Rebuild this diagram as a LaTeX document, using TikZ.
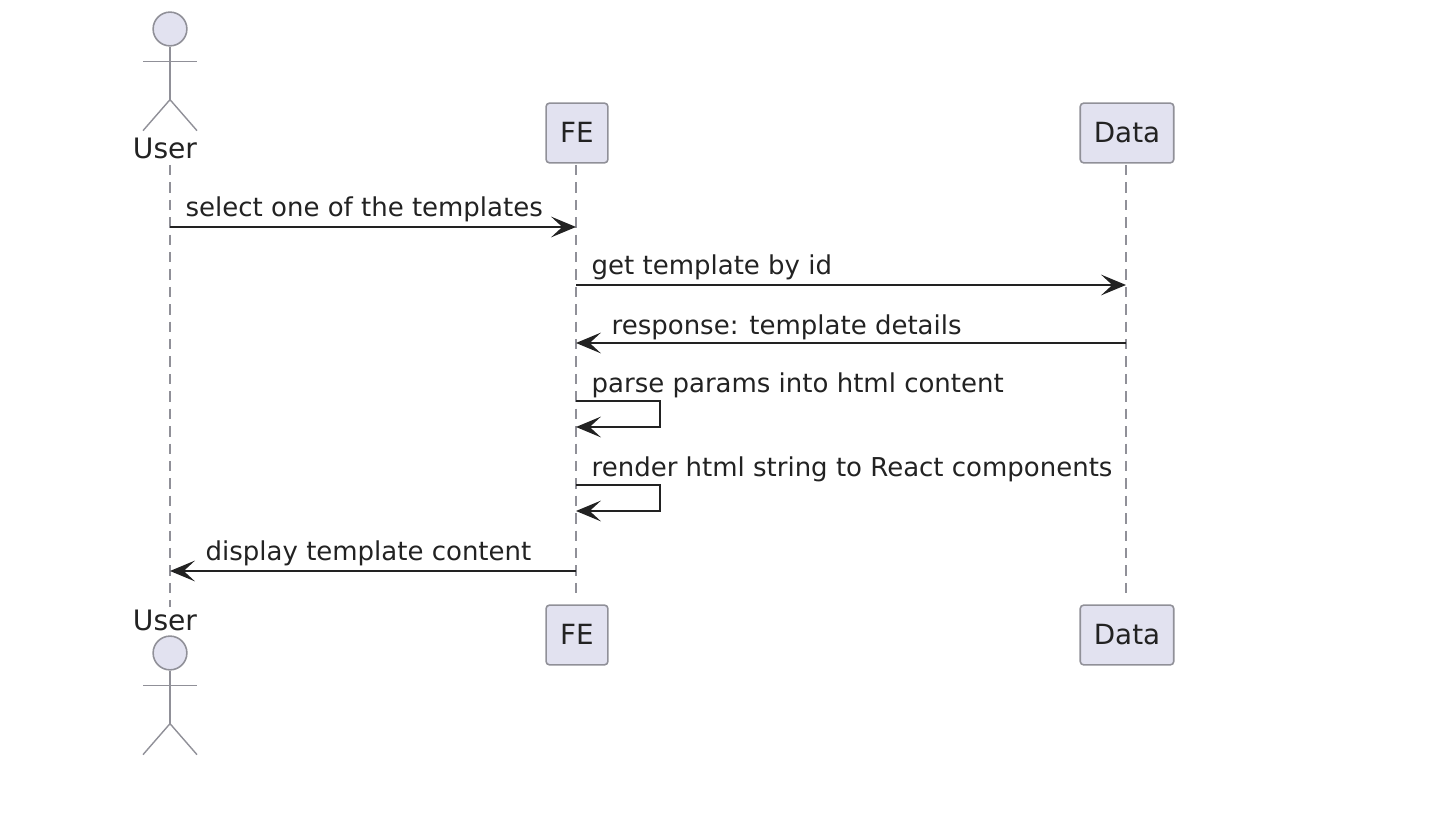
\documentclass[tikz,border=0pt]{standalone}
\usepackage{fontspec}
\usepackage{xcolor}
\usepackage{tikz}
\usetikzlibrary{arrows.meta, positioning, calc}
\setmainfont{DejaVu Sans}
\definecolor{partfill}{HTML}{E2E2F0}
\definecolor{partline}{HTML}{909098}
\definecolor{msgline}{HTML}{222222}
\tikzset{
    partbox/.style={draw=partline, fill=partfill, line width=0.45pt, rounded corners=1pt, inner sep=0pt, font=\fontsize{7.9pt}{10pt}\selectfont, text=msgline, minimum height=17pt, text depth=0.6pt},
    actortext/.style={inner sep=0pt, font=\fontsize{8pt}{10pt}\selectfont, text=msgline},
    actorline/.style={draw=partline, line width=0.4pt},
    head/.style={circle, draw=partline, fill=partfill, line width=0.45pt, inner sep=0pt, minimum size=9.6pt},
    lifeline/.style={draw=partline, line width=0.35pt, dash pattern=on 2.96pt off 1.99pt},
    msg/.style={draw=msgline, line width=0.55pt, -{Stealth[length=7.1pt, width=5.9pt, inset=3.2pt]}},
    msgtext/.style={anchor=base west, inner sep=0pt, font=\fontsize{7.39pt}{9pt}\selectfont, text=msgline}
}
\begin{document}
\begin{tikzpicture}[x=0.01cm, y=-0.01cm]
\useasboundingbox (0,0) rectangle (1432,828);

% participants, top and bottom
\node[partbox, minimum width=17.6pt] (feTop) at (577,133) {FE};
\node[partbox, minimum width=26.6pt] (dataTop) at (1127,133) {Data};
\node[partbox, minimum width=17.6pt] (feBot) at (577,635) {FE};
\node[partbox, minimum width=26.6pt] (dataBot) at (1127,635) {Data};
\node[actortext] (userTop) at (165,148) {User};
\node[actortext] (userBot) at (165,620) {User};

% stick figures
\foreach \n/\y in {a/29, b/653} {
    \node[head] (head\n) at (170,\y) {};
    \draw[actorline] (head\n.south) -- ++(0,53) coordinate (hip\n);
    \draw[actorline] ($(head\n.south)+(-27,15)$) -- ++(54,0);
    \draw[actorline] ($(hip\n)+(-27,31)$) -- (hip\n) -- ++(27,31);
}

% lifelines
\coordinate (userA) at (170,165);
\coordinate (userB) at (170,607);
\draw[lifeline] (userA) -- (userB);
\draw[lifeline] (576,165) coordinate (feA) -- (576,595) coordinate (feB);
\draw[lifeline] (1126,165) coordinate (dataA) -- (1126,595) coordinate (dataB);

% messages
\draw[msg] (userA |- 0,227) -- (feA |- 0,227);
\draw[msg] (feA |- 0,285) -- (dataA |- 0,285);
\draw[msg] (dataA |- 0,343) -- (feA |- 0,343);
\draw[msg] (feA |- 0,401) -- (660,401) -- (660,427) -- (feA |- 0,427);
\draw[msg] (feA |- 0,485) -- (660,485) -- (660,511) -- (feA |- 0,511);
\draw[msg] (feA |- 0,571) -- (userA |- 0,571);

\node[msgtext] (selectText) at (185,217) {select one of the templates};
\node[msgtext] (getText) at (591,275) {get template by id};
\node[msgtext] (responseText) at (611,335) {response: template details};
\node[msgtext] (parseText) at (591,393) {parse params into html content};
\node[msgtext] (renderText) at (591,477) {render html string to React components};
\node[msgtext] (displayText) at (205,561) {display template content};
\end{tikzpicture}
\end{document}
